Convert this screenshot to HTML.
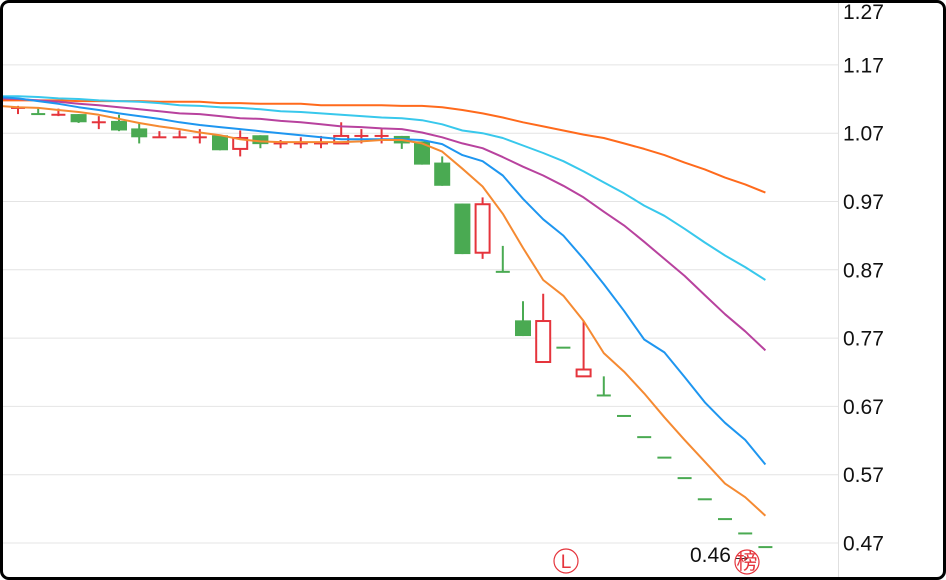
<!DOCTYPE html>
<html><head><meta charset="utf-8"><style>
html,body{margin:0;padding:0;background:#fff;}
#wrap{position:relative;width:946px;height:580px;overflow:hidden;}
#frame{position:absolute;left:0;top:0;width:940px;height:574px;border:3px solid #000;border-radius:9px;pointer-events:none;}
svg text{font-family:"Liberation Sans","Noto Sans CJK SC",sans-serif;}
</style></head><body>
<div id="wrap">
<svg id="chart" width="946" height="580"></svg>
<div id="frame"></div>
</div>
<script>
const tickLabels=["1.27","1.17","1.07","0.97","0.87","0.77","0.67","0.57","0.47"];
const tickValues=[1.27,1.17,1.07,0.97,0.87,0.77,0.67,0.57,0.47];
const opens=[1.107,1.098,1.097,1.098,1.086,1.088,1.077,1.064,1.064,1.064,1.067,1.047,1.067,1.055,1.055,1.055,1.055,1.066,1.066,1.066,1.058,1.027,0.967,0.895,0.867,0.796,0.735,0.756,0.714,0.686,0.656,0.625,0.595,0.565,0.534,0.505,0.484,0.464];
const closes=[1.107,1.097,1.097,1.086,1.086,1.074,1.064,1.064,1.064,1.064,1.045,1.063,1.054,1.055,1.055,1.055,1.066,1.066,1.066,1.055,1.024,0.993,0.893,0.966,0.866,0.773,0.795,0.755,0.724,0.685,0.655,0.624,0.594,0.564,0.533,0.504,0.483,0.463];
const highs=[1.110,1.106,1.106,1.098,1.095,1.097,1.086,1.073,1.074,1.076,1.067,1.074,1.067,1.060,1.064,1.066,1.086,1.076,1.076,1.066,1.058,1.036,0.967,0.976,0.905,0.824,0.835,0.756,0.795,0.714,0.656,0.625,0.595,0.565,0.534,0.505,0.484,0.464];
const lows=[1.098,1.097,1.095,1.085,1.076,1.073,1.055,1.064,1.064,1.055,1.045,1.036,1.048,1.048,1.048,1.048,1.055,1.055,1.055,1.047,1.024,0.993,0.893,0.886,0.866,0.773,0.735,0.755,0.714,0.685,0.655,0.624,0.594,0.564,0.533,0.504,0.483,0.463];
// moving averages, starting at index -1
const ma5=[1.110,1.108,1.107,1.104,1.101,1.097,1.091,1.085,1.080,1.076,1.071,1.067,1.061,1.058,1.057,1.057,1.057,1.057,1.058,1.060,1.060,1.055,1.043,1.018,0.992,0.952,0.902,0.855,0.832,0.795,0.748,0.721,0.689,0.654,0.621,0.589,0.557,0.537,0.510];
const ma10=[1.123,1.121,1.117,1.113,1.108,1.104,1.099,1.095,1.091,1.086,1.082,1.079,1.076,1.073,1.070,1.067,1.064,1.061,1.061,1.061,1.061,1.060,1.054,1.038,1.029,1.008,0.974,0.944,0.920,0.886,0.849,0.810,0.768,0.749,0.713,0.676,0.646,0.621,0.585];
const ma20=[1.121,1.120,1.118,1.116,1.113,1.111,1.108,1.105,1.102,1.099,1.098,1.095,1.092,1.091,1.088,1.086,1.083,1.080,1.079,1.077,1.076,1.071,1.064,1.055,1.048,1.035,1.021,1.008,0.993,0.976,0.955,0.935,0.911,0.886,0.861,0.833,0.805,0.780,0.752];
const ma30=[1.124,1.124,1.123,1.121,1.120,1.118,1.117,1.116,1.114,1.111,1.110,1.108,1.107,1.105,1.102,1.101,1.099,1.097,1.095,1.093,1.092,1.089,1.083,1.074,1.070,1.063,1.052,1.041,1.029,1.014,0.998,0.982,0.964,0.949,0.930,0.910,0.891,0.874,0.855];
const ma60=[1.118,1.118,1.118,1.118,1.117,1.117,1.117,1.117,1.116,1.116,1.116,1.114,1.114,1.113,1.113,1.113,1.111,1.111,1.111,1.111,1.110,1.110,1.108,1.104,1.099,1.093,1.086,1.080,1.074,1.068,1.063,1.055,1.047,1.038,1.027,1.017,1.005,0.995,0.983];
const lastPrice=0.46;

const NS="http://www.w3.org/2000/svg";
const svg=document.getElementById('chart');
function yS(v){return 543-(v-0.47)*683;}
function xS(i){return 18+i*20.2;}
function mk(tag,attrs,parent){const e=document.createElementNS(NS,tag);for(const k in attrs)e.setAttribute(k,attrs[k]);(parent||svg).appendChild(e);return e;}

const grid=mk('g',{});


tickValues.forEach((v,i)=>{
  const y=yS(v);
  const l=mk('line',{x1:0,x2:838,y1:y,y2:y,stroke:'#e4e4e4','stroke-width':1},grid);
  
  
  const ty=Math.max(y+7.5,19);
  const t=mk('text',{x:843,y:ty,'font-size':21,fill:'#111'});
  t.textContent=tickLabels[i];
  
  
});
const ax=mk('line',{x1:838.5,x2:838.5,y1:0,y2:580,stroke:'#e0e0e0','stroke-width':1});



const candles=mk('g',{});


for(let i=0;i<opens.length;i++){
  const up=closes[i]>=opens[i];
  const col=up?'#e5343c':'#4aaa52';
  const x=xS(i);
  const top=yS(Math.max(opens[i],closes[i])),bot=yS(Math.min(opens[i],closes[i]));
  const g=mk('g',{},candles);
  
  
  mk('line',{x1:x,x2:x,y1:yS(highs[i]),y2:yS(lows[i]),stroke:col,'stroke-width':2},g);
  const h=Math.max(bot-top,0);
  if(h<2){
    mk('line',{x1:x-7,x2:x+7,y1:top,y2:top,stroke:col,'stroke-width':2},g);
  }else if(up){
    mk('rect',{x:x-7,y:top,width:14,height:h,fill:'#fff',stroke:col,'stroke-width':2},g);
  }else{
    mk('rect',{x:x-8,y:top,width:16,height:h,fill:col},g);
  }
}

const maSeries=[[ma60,'#ff6a1c','ma60-line'],[ma30,'#38c8ec','ma30-line'],[ma20,'#b8429e','ma20-line'],[ma10,'#1e96f0','ma10-line'],[ma5,'#f58a32','ma5-line']];
maSeries.forEach(s=>{
  const d=s[0].map((v,k)=>(k?'L':'M')+xS(k-1).toFixed(1)+','+yS(v).toFixed(1)).join('');
  const p=mk('path',{d:d,fill:'none',stroke:s[1],'stroke-width':2,'stroke-linejoin':'round'});
  
  
});

const lp=mk('text',{x:690,y:yS(lastPrice)+12,'font-size':21,fill:'#111'});
lp.textContent=lastPrice.toFixed(2)+'→';



function marker(cx,cy,txt,name){
  const g=mk('g',{});
  
  
  mk('circle',{cx:cx,cy:cy,r:12,fill:'none',stroke:'#e5343c','stroke-width':1.2},g);
  const t=mk('text',{x:cx,y:cy+7,'text-anchor':'middle','font-size':txt==='L'?19:21,fill:'#e5343c'},g);
  t.textContent=txt;
}
marker(566,561,'L','l-marker');
marker(747,562,'榜','bang-marker');
</script>
</body></html>
